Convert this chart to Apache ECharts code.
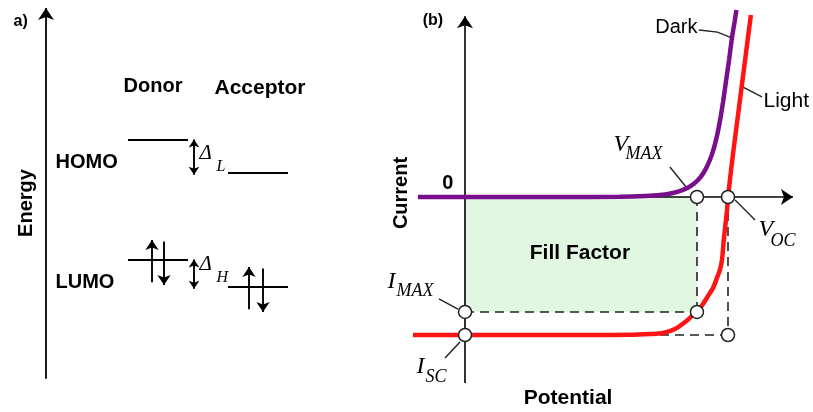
<!DOCTYPE html>
<html><head><meta charset="utf-8">
<script src="https://cdn.jsdelivr.net/npm/echarts@6/dist/echarts.min.js"></script>
<style>html,body{margin:0;padding:0;background:#fff}#c{width:813px;height:412px}</style>
</head><body><div id="c"></div>
<script>
// ---------- Panel (a): energy levels ----------
const levelNames = ['HOMO', 'LUMO'];
const donorEnergy = [4.0, 2.0];
const acceptorEnergy = [3.45, 1.55];
const gapSubs = ['L', 'H'];
const columnNames = ['Donor', 'Acceptor'];

// ---------- Panel (b): J-V curves ----------
const darkV  = [-0.179, 0, 0.361, 0.589, 0.684, 0.741, 0.791, 0.829, 0.859, 0.886, 0.909, 0.928, 0.943, 0.958, 0.970, 0.981, 0.992, 1.004, 1.015, 1.025, 1.032];
const darkI  = [0, 0, 0, 0.002, 0.007, 0.014, 0.029, 0.051, 0.080, 0.123, 0.181, 0.254, 0.333, 0.442, 0.558, 0.688, 0.833, 0.993, 1.152, 1.268, 1.355];
const lightV = [-0.198, 0, 0.513, 0.627, 0.703, 0.753, 0.798, 0.837, 0.863, 0.882, 0.905, 0.924, 0.943, 0.958, 0.970, 0.977, 0.985, 0.996, 1.0, 1.019, 1.044, 1.067, 1.087];
const lightI = [-1, -1, -1, -0.999, -0.993, -0.986, -0.957, -0.906, -0.862, -0.833, -0.775, -0.717, -0.659, -0.587, -0.522, -0.457, -0.290, -0.101, 0, 0.312, 0.681, 1.022, 1.319];
const Vmax = 0.882, Voc = 1.0, Imax = -0.833, Isc = -1.0;

const SANS = 'Liberation Sans', SERIF = 'Liberation Serif';
const INK = '#000';

function txt(x, y, text, o) {
  return { value: [x, y], label: {
    show: true, formatter: text, position: o.pos || 'inside', distance: 0,
    rotate: o.rot || 0, fontFamily: o.ff || SANS, fontSize: o.fs,
    fontWeight: o.fw || 'normal', fontStyle: o.it ? 'italic' : 'normal',
    color: INK, opacity: 1, textBorderWidth: 0
  }};
}
const pair = (a, b) => a.map((v, i) => [v, b[i]]);

// panel a geometry (layout)
const AX = 2.3, DON = [6.4, 9.4], ACC = [11.4, 14.4], GAPX = 9.7;
const levelLines = [];
donorEnergy.forEach(e => levelLines.push({ coords: [[DON[0], e], [DON[1], e]] }));
acceptorEnergy.forEach(e => levelLines.push({ coords: [[ACC[0], e], [ACC[1], e]] }));
const spinUp = [], spinDown = [];
[[7.6, 8.2, donorEnergy[1]], [12.45, 13.15, acceptorEnergy[1]]].forEach(([xu, xd, e]) => {
  spinUp.push({ coords: [[xu, e - 0.37], [xu, e + 0.333]] });
  spinDown.push({ coords: [[xd, e + 0.31], [xd, e - 0.417]] });
});
const gapArrows = donorEnergy.map((e, i) => ({ coords: [[GAPX, e + 0.01], [GAPX, acceptorEnergy[i] - 0.03]] }));

const labelsA = [
  txt(0.65, 5.98, 'a)', { fs: 16, fw: 'bold', pos: 'right' }),
  txt(1.3, 2.95, 'Energy', { fs: 20, fw: 'bold', rot: 90 }),
  txt(7.65, 4.9, columnNames[0], { fs: 20, fw: 'bold' }),
  txt(13.0, 4.87, columnNames[1], { fs: 21, fw: 'bold' }),
  txt(2.75, 3.633, levelNames[0], { fs: 20, fw: 'bold', pos: 'right' }),
  txt(2.75, 1.633, levelNames[1], { fs: 20, fw: 'bold', pos: 'right' }),
  txt(9.95, 3.767, 'Δ', { fs: 21, ff: SERIF, it: true, pos: 'right' }),
  txt(10.8, 3.55, gapSubs[0], { fs: 16, ff: SERIF, it: true, pos: 'right' }),
  txt(9.95, 1.917, 'Δ', { fs: 21, ff: SERIF, it: true, pos: 'right' }),
  txt(10.8, 1.708, gapSubs[1], { fs: 16, ff: SERIF, it: true, pos: 'right' })
];

const labelsB = [
  txt(-0.163, 1.275, '(b)', { fs: 16, fw: 'bold', pos: 'right' }),
  txt(-0.065, 0.101, '0', { fs: 20, fw: 'bold' }),
  txt(-0.243, 0.029, 'Current', { fs: 20, fw: 'bold', rot: 90 }),
  txt(0.392, -1.457, 'Potential', { fs: 21, fw: 'bold' }),
  txt(0.437, -0.406, 'Fill Factor', { fs: 21, fw: 'bold' }),
  txt(0.886, 1.228, 'Dark', { fs: 20, pos: 'left' }),
  txt(1.133, 0.696, 'Light', { fs: 21, pos: 'right' }),
  txt(0.563, 0.377, 'V', { fs: 24, ff: SERIF, it: true, pos: 'right' }),
  txt(0.608, 0.308, 'MAX', { fs: 18, ff: SERIF, it: true, pos: 'right' }),
  txt(1.114, -0.239, 'V', { fs: 24, ff: SERIF, it: true, pos: 'right' }),
  txt(1.160, -0.322, 'OC', { fs: 18, ff: SERIF, it: true, pos: 'right' }),
  txt(-0.297, -0.612, 'I', { fs: 24, ff: SERIF, it: true, pos: 'right' }),
  txt(-0.262, -0.681, 'MAX', { fs: 18, ff: SERIF, it: true, pos: 'right' }),
  txt(-0.186, -1.232, 'I', { fs: 24, ff: SERIF, it: true, pos: 'right' }),
  txt(-0.152, -1.308, 'SC', { fs: 18, ff: SERIF, it: true, pos: 'right' })
];

const chart = echarts.init(document.getElementById('c'), null, { renderer: 'canvas' });
chart.setOption({
  animation: false,
  backgroundColor: '#fff',
  grid: [
    { left: 0, top: 2, width: 320, height: 378 },
    { left: 386.1, top: 3.8, width: 420.8, height: 400.2 }
  ],
  xAxis: [
    { type: 'value', gridIndex: 0, min: 0, max: 16, show: false },
    { type: 'value', gridIndex: 1, min: -0.3, max: 1.3, show: false }
  ],
  yAxis: [
    { type: 'value', gridIndex: 0, min: 0, max: 6.3, show: false },
    { type: 'value', gridIndex: 1, min: -1.5, max: 1.4, show: false }
  ],
  series: [
    // ---- panel a ----
    { type: 'lines', coordinateSystem: 'cartesian2d', xAxisIndex: 0, yAxisIndex: 0, z: 3,
      symbol: ['none', 'arrow'], symbolSize: 12, lineStyle: { color: INK, width: 1.8, opacity: 1 },
      data: [{ coords: [[AX, 0.02], [AX, 6.2]] }] },
    { type: 'lines', coordinateSystem: 'cartesian2d', xAxisIndex: 0, yAxisIndex: 0, z: 3,
      symbol: 'none', lineStyle: { color: INK, width: 2, opacity: 1 }, data: levelLines },
    { type: 'lines', coordinateSystem: 'cartesian2d', xAxisIndex: 0, yAxisIndex: 0, z: 3,
      symbol: ['none', 'arrow'], symbolSize: 10, lineStyle: { color: INK, width: 1.9, opacity: 1 },
      data: spinUp.concat(spinDown) },
    { type: 'lines', coordinateSystem: 'cartesian2d', xAxisIndex: 0, yAxisIndex: 0, z: 3,
      symbol: ['arrow', 'arrow'], symbolSize: 8, lineStyle: { color: INK, width: 1.9, opacity: 1 },
      data: gapArrows },
    { type: 'scatter', xAxisIndex: 0, yAxisIndex: 0, z: 6, symbolSize: 1, silent: true,
      itemStyle: { color: 'rgba(0,0,0,0)' }, data: labelsA },

    // ---- panel b ----
    { type: 'line', xAxisIndex: 1, yAxisIndex: 1, z: 1, data: [[0, 0]], showSymbol: false,
      lineStyle: { opacity: 0 },
      markArea: { silent: true, itemStyle: { color: '#e2f7e2', opacity: 1 },
        data: [[{ coord: [0, 0] }, { coord: [Vmax, Imax] }]] } },
    { type: 'lines', coordinateSystem: 'cartesian2d', xAxisIndex: 1, yAxisIndex: 1, z: 2,
      symbol: 'none', lineStyle: { color: '#222', width: 1.6, type: [9, 6], opacity: 1 },
      data: [
        { coords: [[Vmax, 0], [Vmax, Imax]] },
        { coords: [[0, Imax], [Vmax, Imax]] },
        { coords: [[Voc, 0], [Voc, Isc]] },
        { coords: [[0, Isc], [Voc, Isc]] }
      ] },
    { type: 'lines', coordinateSystem: 'cartesian2d', xAxisIndex: 1, yAxisIndex: 1, z: 3,
      symbol: ['none', 'arrow'], symbolSize: 12, lineStyle: { color: INK, width: 1.6, opacity: 1 },
      data: [
        { coords: [[0, -1.348], [0, 1.31]] },
        { coords: [[0, 0], [1.247, 0]] }
      ] },
    { type: 'line', name: 'Dark', xAxisIndex: 1, yAxisIndex: 1, z: 4, data: pair(darkV, darkI),
      showSymbol: false, smooth: 0.25,
      lineStyle: { color: '#7a0f8e', width: 4.5 } },
    { type: 'line', name: 'Light', xAxisIndex: 1, yAxisIndex: 1, z: 4, data: pair(lightV, lightI),
      showSymbol: false, smooth: 0.25,
      lineStyle: { color: '#ff1414', width: 4.5 } },
    { type: 'lines', coordinateSystem: 'cartesian2d', xAxisIndex: 1, yAxisIndex: 1, z: 4,
      polyline: true, symbol: 'none', lineStyle: { color: '#222', width: 1.4, opacity: 1 },
      data: [
        { coords: [[0.89, 1.21], [0.96, 1.195], [1.019, 1.15]] },
        { coords: [[1.057, 0.797], [1.129, 0.725]] },
        { coords: [[0.779, 0.217], [0.85, 0.051]] },
        { coords: [[1.027, -0.022], [1.103, -0.167]] },
        { coords: [[-0.099, -0.739], [-0.027, -0.812]] },
        { coords: [[-0.076, -1.167], [-0.019, -1.051]] }
      ] },
    { type: 'scatter', xAxisIndex: 1, yAxisIndex: 1, z: 5, symbol: 'circle', symbolSize: 13, silent: true,
      itemStyle: { color: '#fff', borderColor: '#222', borderWidth: 1.5, opacity: 1 },
      data: [[Vmax, 0], [Voc, 0], [0, Imax], [Vmax, Imax], [0, Isc], [Voc, Isc]] },
    { type: 'scatter', xAxisIndex: 1, yAxisIndex: 1, z: 6, symbolSize: 1, silent: true,
      itemStyle: { color: 'rgba(0,0,0,0)' }, data: labelsB }
  ]
});
</script></body></html>
